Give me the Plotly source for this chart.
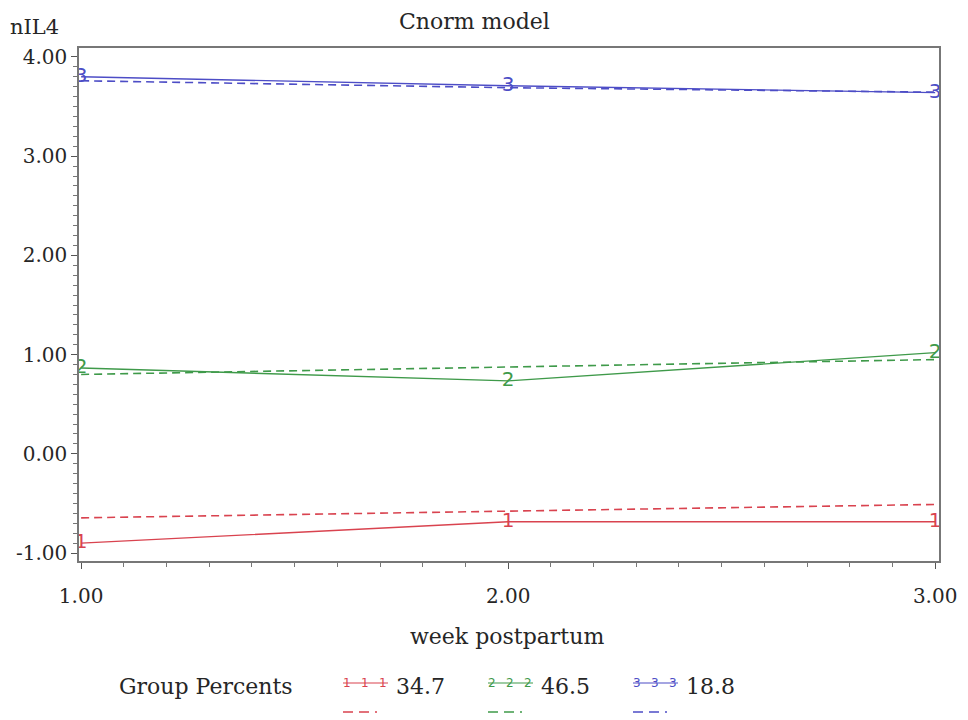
import plotly.graph_objects as go

weeks = [1.0, 2.0, 3.0]
obs_g1 = [-0.90, -0.685, -0.685]
obs_g2 = [0.865, 0.735, 1.02]
obs_g3 = [3.80, 3.71, 3.64]
pred_g1 = [-0.645, -0.58, -0.51]
pred_g2 = [0.80, 0.875, 0.95]
pred_g3 = [3.76, 3.69, 3.645]
group_labels = ["1", "2", "3"]
group_pcts = ["34.7", "46.5", "18.8"]
colors = ["#d9434f", "#3f9a4a", "#4d4dc6"]

xtick_vals = [1, 2, 3]
xtick_text = ["1.00", "2.00", "3.00"]
ytick_vals = [-1, 0, 1, 2, 3, 4]
ytick_text = ["-1.00", "0.00", "1.00", "2.00", "3.00", "4.00"]

SERIF = "DejaVu Serif"
TXT = "#262626"
fig = go.Figure()

obs = [obs_g1, obs_g2, obs_g3]
pred = [pred_g1, pred_g2, pred_g3]
for i in range(3):
    fig.add_trace(go.Scatter(
        x=weeks, y=pred[i], mode="lines",
        line=dict(color=colors[i], width=1.6, dash="8px,5px"),
        showlegend=False, hoverinfo="skip"))
    fig.add_trace(go.Scatter(
        x=weeks, y=obs[i], mode="lines+text",
        text=[group_labels[i]] * 3, textposition="middle center",
        textfont=dict(color=colors[i], size=20, family="DejaVu Sans"),
        line=dict(color=colors[i], width=1.4),
        showlegend=False, hoverinfo="skip"))

axis_common = dict(
    showline=True, linecolor="#777", linewidth=1.5, mirror=True,
    ticks="outside", ticklen=6, tickcolor="#555", showgrid=False, zeroline=False,
    tickfont=dict(family=SERIF, size=20, color=TXT),
)
fig.update_xaxes(range=[0.995, 3.009], tickvals=xtick_vals, ticktext=xtick_text,
                 minor=dict(dtick=0.1, ticks="outside", ticklen=4, tickcolor="#777"),
                 ticklabelstandoff=10, **axis_common)
fig.update_yaxes(range=[-1.08, 4.09], tickvals=ytick_vals, ticktext=ytick_text,
                 minor=dict(dtick=0.1, ticks="outside", ticklen=4, tickcolor="#777"),
                 **axis_common)

W, H = 968, 720
L, R, T, B = 79, 29, 48, 159
pw, ph = W - L - R, H - T - B

def px(x):
    return (x - L) / pw

def py(y):
    return (H - B - y) / ph

def label(text, x, y, anchor="center", size=22):
    fig.add_annotation(text=text, xref="paper", yref="paper", x=px(x), y=py(y),
                       xanchor=anchor, yanchor="middle", showarrow=False,
                       font=dict(family=SERIF, size=size, color=TXT))

label("Cnorm model", 474, 22)
label("nIL4", 8, 27, anchor="left", size=21)
label("week postpartum", 507, 636)
label("Group Percents", 117, 686, anchor="left")

starts = [343, 488, 633]
for i in range(3):
    s = starts[i]
    fig.add_shape(type="line", xref="paper", yref="paper", x0=px(s), x1=px(s + 45),
                  y0=py(683), y1=py(683), line=dict(color=colors[i], width=1.2))
    for k in range(3):
        fig.add_annotation(text=group_labels[i], xref="paper", yref="paper",
                           x=px(s + 4 + k * 18), y=py(683), xanchor="center", yanchor="middle",
                           showarrow=False, font=dict(family="DejaVu Sans", size=12, color=colors[i]))
    label(group_pcts[i], s + 51, 686, anchor="left")
    fig.add_shape(type="line", xref="paper", yref="paper", x0=px(s), x1=px(s + 34),
                  y0=py(712), y1=py(712), line=dict(color=colors[i], width=1.4, dash="10px,6px"))

fig.update_layout(
    width=W, height=H, margin=dict(l=L, r=R, t=T, b=B),
    paper_bgcolor="white", plot_bgcolor="white", showlegend=False,
)
fig.write_html("out.html")
